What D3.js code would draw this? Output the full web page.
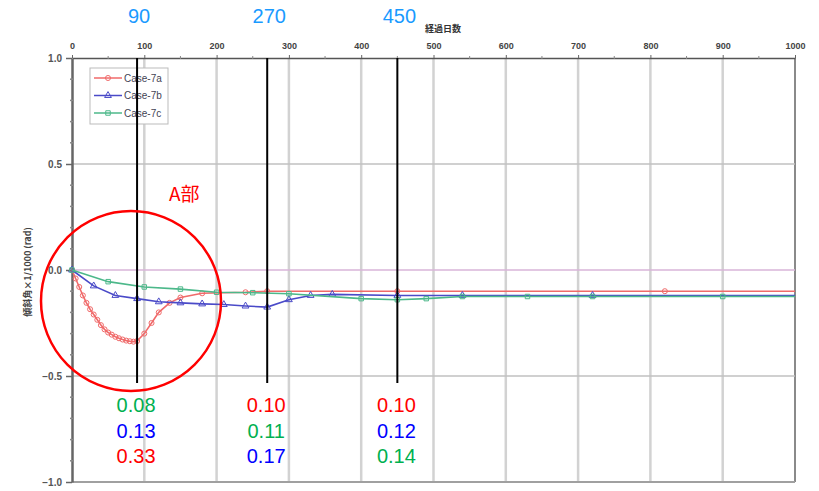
<!DOCTYPE html>
<html>
<head>
<meta charset="utf-8">
<script src="https://cdn.jsdelivr.net/npm/d3@7"></script>
<style>
  body { margin: 0; background: #fff; }
  svg { display: block; font-family: 'Liberation Sans', Arial, sans-serif; }
</style>
</head>
<body>
<div id="container"></div>
<script>
const w = 819,
  h = 491,
  plotLeft = 72,
  plotRight = 795,
  plotTop = 58,
  plotBottom = 482;

// measured data (days, tilt x 1/1000 rad)
const daysA = [0, 5, 10, 15, 20, 25, 30, 35, 40, 45, 50, 55, 60, 65, 70, 75, 80, 85, 90, 100, 110, 120, 135, 150, 180, 240, 270, 450, 820, 1000];
const valsA = [0, -0.04, -0.08, -0.12, -0.155, -0.185, -0.21, -0.235, -0.26, -0.28, -0.295, -0.305, -0.315, -0.322, -0.328, -0.333, -0.336, -0.338, -0.335, -0.3, -0.25, -0.2, -0.155, -0.13, -0.11, -0.105, -0.1, -0.1, -0.1, -0.1];

const daysB = [0, 30, 60, 90, 120, 150, 180, 210, 240, 270, 300, 330, 360, 450, 540, 720, 1000];
const valsB = [0, -0.075, -0.12, -0.135, -0.15, -0.155, -0.16, -0.163, -0.17, -0.175, -0.14, -0.12, -0.115, -0.12, -0.12, -0.12, -0.12];

const daysC = [0, 50, 100, 150, 200, 250, 300, 400, 450, 490, 540, 630, 720, 900, 1000];
const valsC = [0, -0.055, -0.08, -0.09, -0.105, -0.107, -0.112, -0.135, -0.14, -0.135, -0.125, -0.125, -0.125, -0.125, -0.125];

const seriesNames = ['Case-7a', 'Case-7b', 'Case-7c'];
const seriesColors = ['#f06a6a', '#4a4ac8', '#4cb88a'];
const seriesShapes = [d3.symbolCircle, d3.symbolTriangle, d3.symbolSquare];

const markDays = [90, 270, 450];
// readings at each marked day, listed top to bottom
const readings = [
  [['0.08', '#00b050'], ['0.13', '#0000ff'], ['0.33', '#ff0000']],
  [['0.10', '#ff0000'], ['0.11', '#00b050'], ['0.17', '#0000ff']],
  [['0.10', '#ff0000'], ['0.12', '#0000ff'], ['0.14', '#00b050']],
];

const xTicks = [0, 100, 200, 300, 400, 500, 600, 700, 800, 900, 1000];
const yTicks = [1.0, 0.5, 0.0, -0.5, -1.0];

const series = [
  daysA.map((d, i) => ({ day: d, v: valsA[i] })),
  daysB.map((d, i) => ({ day: d, v: valsB[i] })),
  daysC.map((d, i) => ({ day: d, v: valsC[i] })),
];

const svg = d3
  .select('#container')
  .append('svg')
  .attr('width', w)
  .attr('height', h);

const xScale = d3.scaleLinear().domain([0, 1000]).range([plotLeft, plotRight]);
const yScale = d3.scaleLinear().domain([-1, 1]).range([plotBottom, plotTop]);

// vertical grid
svg
  .append('g')
  .selectAll('line')
  .data(xTicks.slice(1))
  .enter()
  .append('line')
  .attr('x1', (d) => xScale(d))
  .attr('x2', (d) => xScale(d))
  .attr('y1', plotTop)
  .attr('y2', plotBottom)
  .attr('stroke', (d) => (d === 1000 ? '#8a8a8a' : '#d2d2d2'))
  .attr('stroke-width', (d) => (d === 1000 ? 2 : 2.5));

// horizontal grid
svg
  .append('g')
  .selectAll('line')
  .data([0.5, -0.5, -1.0])
  .enter()
  .append('line')
  .attr('x1', plotLeft)
  .attr('x2', plotRight)
  .attr('y1', (d) => yScale(d))
  .attr('y2', (d) => yScale(d))
  .attr('stroke', (d) => (d === -1 ? '#a0a0a0' : '#c0c0c0'))
  .attr('stroke-width', (d) => (d === -1 ? 2 : 1.5));

svg
  .append('line')
  .attr('x1', plotLeft)
  .attr('x2', plotRight)
  .attr('y1', yScale(0))
  .attr('y2', yScale(0))
  .attr('stroke', '#d8b4d8')
  .attr('stroke-width', 1.5);

// top axis
const xAxis = d3
  .axisTop(xScale)
  .tickValues(xTicks)
  .tickSize(3)
  .tickSizeOuter(0)
  .tickPadding(6)
  .tickFormat(d3.format('d'));

const gx = svg
  .append('g')
  .attr('transform', 'translate(0,' + plotTop + ')')
  .call(xAxis);
gx.select('.domain').attr('stroke', '#555').attr('stroke-width', 1.5);
gx.selectAll('line').attr('stroke', '#666');
gx.selectAll('text')
  .attr('fill', '#444')
  .attr('font-size', 9)
  .attr('font-weight', 'bold');

svg
  .append('g')
  .selectAll('line')
  .data(d3.range(50, 1000, 100))
  .enter()
  .append('line')
  .attr('x1', (d) => xScale(d))
  .attr('x2', (d) => xScale(d))
  .attr('y1', plotTop - 2)
  .attr('y2', plotTop + 1)
  .attr('stroke', '#888');

// left axis
const yAxis = d3
  .axisLeft(yScale)
  .tickValues(yTicks)
  .tickSize(6)
  .tickSizeOuter(0)
  .tickPadding(4)
  .tickFormat(d3.format('.1f'));

const gy = svg
  .append('g')
  .attr('transform', 'translate(' + plotLeft + ',0)')
  .call(yAxis);
gy.select('.domain').attr('stroke', '#666').attr('stroke-width', 2.5);
gy.selectAll('line').attr('stroke', '#666').attr('stroke-width', 1.5);
gy.selectAll('text')
  .attr('fill', '#555')
  .attr('font-size', 10)
  .attr('font-weight', 'bold');

svg
  .append('g')
  .selectAll('line')
  .data(d3.range(-9, 10).filter((d) => d % 5 !== 0).map((d) => d / 10))
  .enter()
  .append('line')
  .attr('x1', plotLeft - 2)
  .attr('x2', plotLeft + 2)
  .attr('y1', (d) => yScale(d))
  .attr('y2', (d) => yScale(d))
  .attr('stroke', '#888')
  .attr('stroke-width', 1.5);

// axis titles
svg
  .append('text')
  .text('経過日数')
  .attr('x', 443)
  .attr('y', 32)
  .attr('text-anchor', 'middle')
  .attr('font-family', 'Noto Sans CJK JP')
  .attr('font-size', 9)
  .attr('font-weight', 'bold')
  .attr('fill', '#333');

svg
  .append('text')
  .text('傾斜角×1/1000 (rad)')
  .attr('transform', 'translate(31,272) rotate(-90)')
  .attr('text-anchor', 'middle')
  .attr('font-family', 'Noto Sans CJK JP')
  .attr('font-size', 9)
  .attr('font-weight', 'bold')
  .attr('fill', '#444');

// series
const line = d3
  .line()
  .x((d) => xScale(d.day))
  .y((d) => yScale(d.v));

series.forEach((s, i) => {
  svg
    .append('path')
    .datum(s)
    .attr('d', line)
    .attr('fill', 'none')
    .attr('stroke', seriesColors[i])
    .attr('stroke-width', 1.6);

  svg
    .append('g')
    .selectAll('path')
    .data(s.filter((d) => d.day < 1000))
    .enter()
    .append('path')
    .attr('d', d3.symbol().type(seriesShapes[i]).size(20))
    .attr('transform', (d) => 'translate(' + xScale(d.day) + ',' + yScale(d.v) + ')')
    .attr('fill', 'none')
    .attr('stroke', seriesColors[i])
    .attr('stroke-width', 1);
});

// legend
const legend = svg.append('g').attr('transform', 'translate(90,68)');
legend
  .append('rect')
  .attr('width', 78)
  .attr('height', 56)
  .attr('fill', '#fff')
  .attr('stroke', '#bbb');

seriesNames.forEach((name, i) => {
  const yy = 10 + i * 17.5;
  legend
    .append('line')
    .attr('x1', 4)
    .attr('x2', 32)
    .attr('y1', yy)
    .attr('y2', yy)
    .attr('stroke', seriesColors[i])
    .attr('stroke-width', 1.5);
  legend
    .append('path')
    .attr('d', d3.symbol().type(seriesShapes[i]).size(20))
    .attr('transform', 'translate(18,' + yy + ')')
    .attr('fill', 'none')
    .attr('stroke', seriesColors[i]);
  legend
    .append('text')
    .text(name)
    .attr('x', 34)
    .attr('y', yy + 3.5)
    .attr('font-size', 10)
    .attr('fill', '#445');
});

// marked days
svg
  .append('g')
  .selectAll('line')
  .data(markDays)
  .enter()
  .append('line')
  .attr('x1', (d) => xScale(d))
  .attr('x2', (d) => xScale(d))
  .attr('y1', plotTop)
  .attr('y2', 383)
  .attr('stroke', '#000')
  .attr('stroke-width', 2);

svg
  .append('g')
  .selectAll('text')
  .data(markDays)
  .enter()
  .append('text')
  .text((d) => d)
  .attr('x', (d) => xScale(d) + 2)
  .attr('y', 23)
  .attr('text-anchor', 'middle')
  .attr('font-size', 20)
  .attr('fill', '#1a9aff');

readings.forEach((col, i) => {
  col.forEach((r, j) => {
    svg
      .append('text')
      .text(r[0])
      .attr('x', xScale(markDays[i]) - 1)
      .attr('y', 412 + j * 25.5)
      .attr('text-anchor', 'middle')
      .attr('font-size', 20)
      .attr('fill', r[1]);
  });
});

// A部 circle
svg
  .append('circle')
  .attr('cx', 131)
  .attr('cy', 301)
  .attr('r', 90)
  .attr('fill', 'none')
  .attr('stroke', '#ff0000')
  .attr('stroke-width', 2.5);

svg
  .append('text')
  .text('A部')
  .attr('x', 169)
  .attr('y', 201)
  .attr('font-family', 'Noto Sans CJK JP')
  .attr('font-size', 19)
  .attr('fill', '#ff0000');
</script>
</body>
</html>
